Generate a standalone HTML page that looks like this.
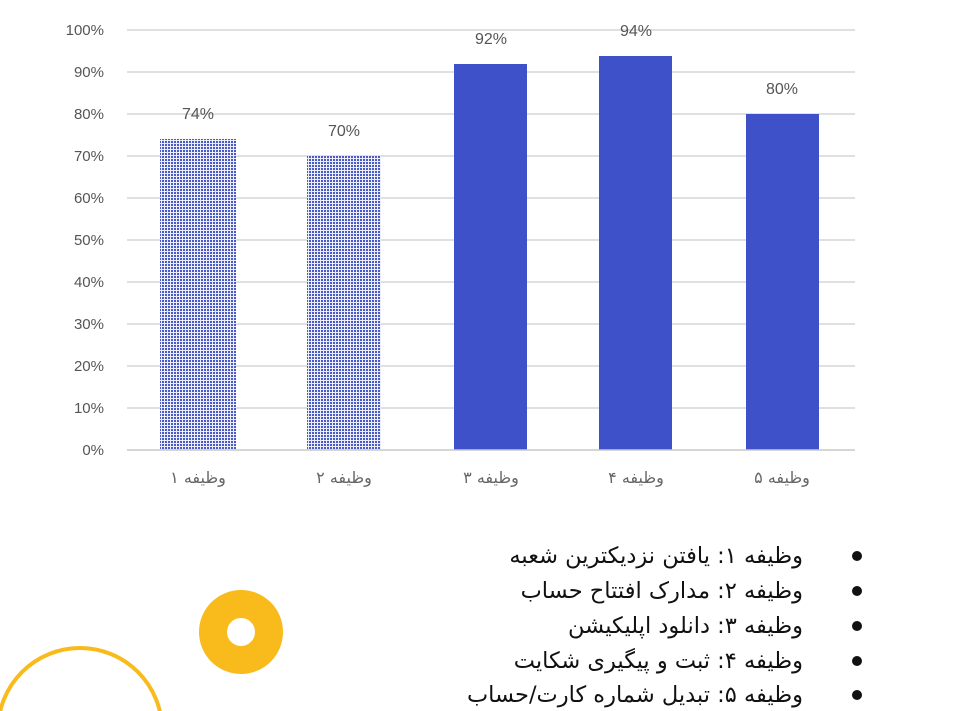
<!DOCTYPE html>
<html><head><meta charset="utf-8"><style>
html,body{margin:0;padding:0;background:#fff;width:954px;height:711px;overflow:hidden}
svg{display:block}
</style></head><body>
<svg width="954" height="711" xmlns="http://www.w3.org/2000/svg" font-family="Liberation Sans, DejaVu Sans, sans-serif">
<defs>
<pattern id="dots" width="3" height="3" patternUnits="userSpaceOnUse">
<rect width="3" height="3" fill="#eceef9"/>
<rect width="2" height="2" fill="#4a59c8"/>
</pattern>
</defs>
<g stroke="#d6d6d6" stroke-width="1.5">
<line x1="127" x2="855" y1="30" y2="30"/><line x1="127" x2="855" y1="72" y2="72"/>
<line x1="127" x2="855" y1="114" y2="114"/><line x1="127" x2="855" y1="156" y2="156"/>
<line x1="127" x2="855" y1="198" y2="198"/><line x1="127" x2="855" y1="240" y2="240"/>
<line x1="127" x2="855" y1="282" y2="282"/><line x1="127" x2="855" y1="324" y2="324"/>
<line x1="127" x2="855" y1="366" y2="366"/><line x1="127" x2="855" y1="408" y2="408"/>
</g>
<g font-size="15" fill="#555" text-anchor="end">
<text x="104" y="35">100%</text><text x="104" y="77">90%</text><text x="104" y="119">80%</text>
<text x="104" y="161">70%</text><text x="104" y="203">60%</text><text x="104" y="245">50%</text>
<text x="104" y="287">40%</text><text x="104" y="329">30%</text><text x="104" y="371">20%</text>
<text x="104" y="413">10%</text><text x="104" y="455">0%</text>
</g>
<rect x="160" y="139" width="76" height="311" fill="url(#dots)"/>
<rect x="307" y="156" width="74" height="294" fill="url(#dots)"/>
<rect x="454" y="64" width="73" height="386" fill="#3f51c8"/>
<rect x="599" y="56" width="73" height="394" fill="#3f51c8"/>
<rect x="746" y="114" width="73" height="336" fill="#3f51c8"/>
<line x1="127" x2="855" y1="450" y2="450" stroke="#c8c8c8" stroke-width="1.5"/>
<g font-size="16" fill="#555" text-anchor="middle">
<text x="198" y="119">74%</text><text x="344" y="136">70%</text><text x="491" y="44">92%</text>
<text x="636" y="36">94%</text><text x="782" y="94">80%</text>
</g>
<g font-size="16" fill="#666" text-anchor="middle" font-family="DejaVu Sans, sans-serif">
<text x="198" y="483">وظیفه ۱</text><text x="344" y="483">وظیفه ۲</text><text x="491" y="483">وظیفه ۳</text>
<text x="636" y="483">وظیفه ۴</text><text x="782" y="483">وظیفه ۵</text>
</g>
<circle cx="241" cy="632" r="28" fill="none" stroke="#f9bb1c" stroke-width="28"/>
<circle cx="80" cy="730" r="82" fill="none" stroke="#f9bb1c" stroke-width="4"/>
<g font-size="22.5" fill="#111" font-family="DejaVu Sans, sans-serif">
<text x="803" y="563" direction="rtl" text-anchor="start">وظیفه ۱: یافتن نزدیکترین شعبه</text>
<text x="803" y="598" direction="rtl" text-anchor="start">وظیفه ۲: مدارک افتتاح حساب</text>
<text x="803" y="633" direction="rtl" text-anchor="start">وظیفه ۳: دانلود اپلیکیشن</text>
<text x="803" y="668" direction="rtl" text-anchor="start">وظیفه ۴: ثبت و پیگیری شکایت</text>
<text x="803" y="702" direction="rtl" text-anchor="start">وظیفه ۵: تبدیل شماره کارت/حساب</text>
</g>
<g fill="#111">
<circle cx="857" cy="556" r="5"/><circle cx="857" cy="591" r="5"/><circle cx="857" cy="626" r="5"/>
<circle cx="857" cy="661" r="5"/><circle cx="857" cy="695" r="5"/>
</g>
</svg>
</body></html>
